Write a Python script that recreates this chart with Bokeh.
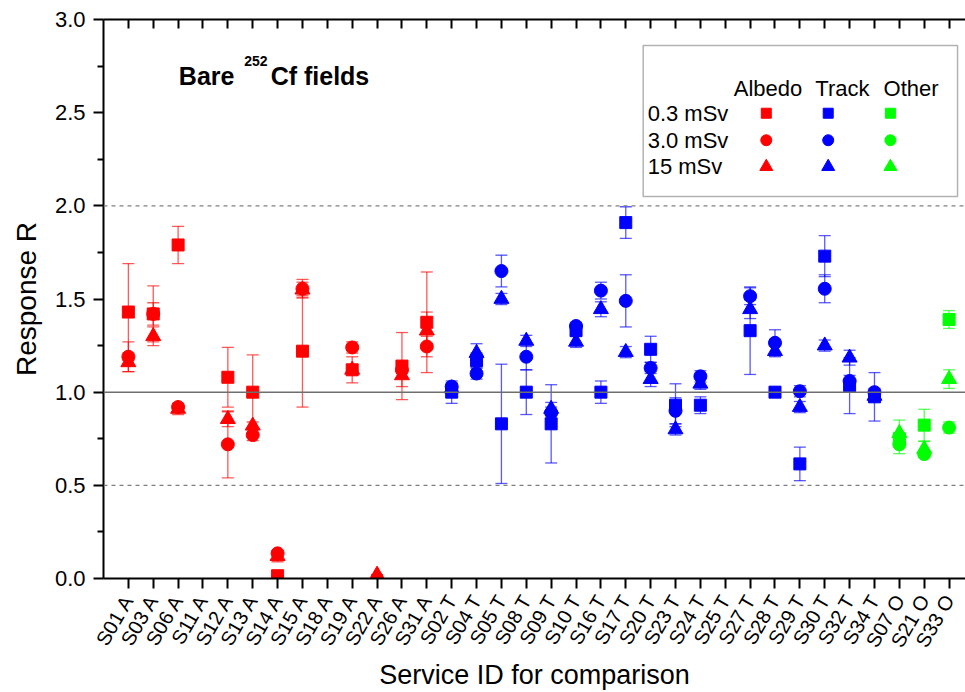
import math
from bokeh.plotting import figure
from bokeh.models import (ColumnDataSource, Whisker, TeeHead, Span, Label, LinearAxis,
                          FixedTicker, NumeralTickFormatter, BoxAnnotation, Range1d)
from bokeh.embed import file_html
from bokeh.resources import INLINE

# ---------------- data ----------------
categories = ["S01 A", "S03 A", "S06 A", "S11 A", "S12 A", "S13 A", "S14 A", "S15 A",
              "S18 A", "S19 A", "S22 A", "S26 A", "S31 A",
              "S02 T", "S04 T", "S05 T", "S08 T", "S09 T", "S10 T", "S16 T", "S17 T",
              "S20 T", "S23 T", "S24 T", "S25 T", "S27 T", "S28 T", "S29 T", "S30 T",
              "S32 T", "S34 T",
              "S07 O", "S21 O", "S33 O"]
groups = ["Albedo"] * 13 + ["Track"] * 18 + ["Other"] * 3

N = None
# 0.3 mSv (squares)
sq_val = [1.43, 1.42, 1.79, N, 1.08, 1.00, 0.015, 1.22, N, 1.12, N, 1.14, 1.375,
          1.00, 1.17, 0.83, 1.00, 0.83, 1.33, 1.00, 1.91, 1.23, 0.93, 0.93, N, 1.33,
          1.00, 0.615, 1.73, 1.035, 0.975,
          0.75, 0.823, 1.39]
sq_err = [0.26, 0.15, 0.10, N, 0.16, 0.20, 0.0, 0.30, N, 0.0, N, 0.18, 0.27,
          0.06, 0.04, 0.32, 0.12, 0.21, 0.03, 0.06, 0.085, 0.07, 0.115, 0.045, N, 0.235,
          0.0, 0.09, 0.11, 0.15, 0.13,
          0.03, 0.085, 0.048]
# 3.0 mSv (circles)
ci_val = [1.19, 1.42, 0.92, N, 0.72, 0.77, 0.135, 1.555, N, 1.24, N, 1.12, 1.245,
          1.03, 1.10, 1.65, 1.19, 0.89, 1.355, 1.545, 1.49, 1.13, 0.90, 1.085, N, 1.515,
          1.265, 1.005, 1.555, 1.06, 1.00,
          0.72, 0.668, 0.81]
ci_err = [0.08, 0.06, 0.02, N, 0.18, 0.03, 0.0, 0.05, N, 0.03, N, 0.02, 0.055,
          0.02, 0.03, 0.085, 0.07, 0.03, 0.02, 0.045, 0.14, 0.03, 0.07, 0.03, N, 0.045,
          0.07, 0.03, 0.075, 0.03, 0.02,
          0.05, 0.02, 0.03]
# 15 mSv (triangles)
tr_val = [1.16, 1.30, 0.91, N, 0.855, 0.82, 0.12, 1.55, N, 1.12, 0.02, 1.09, 1.33,
          1.02, 1.21, 1.50, 1.275, 0.91, 1.27, 1.445, 1.215, 1.07, 0.80, 1.045, N, 1.445,
          1.22, 0.92, 1.25, 1.185, 0.98,
          0.78, 0.695, 1.07]
tr_err = [0.05, 0.05, 0.03, N, 0.04, 0.02, 0.03, 0.04, N, 0.07, 0.0, 0.06, 0.10,
          0.02, 0.05, 0.03, 0.03, 0.035, 0.03, 0.04, 0.03, 0.04, 0.03, 0.03, N, 0.05,
          0.03, 0.03, 0.03, 0.04, 0.02,
          0.07, 0.04, 0.05]

group_names = ["Albedo", "Track", "Other"]
dose_labels = ["0.3 mSv", "3.0 mSv", "15 mSv"]
y_ticks = [0.0, 0.5, 1.0, 1.5, 2.0, 2.5, 3.0]

# ---------------- styles ----------------
colors = {"Albedo": "#FF0000", "Track": "#0000FF", "Other": "#00FF00"}
markers = [("square", 12), ("circle", 13), ("triangle", 15)]
FONT = "Liberation Sans"

p = figure(width=965, height=692, x_range=Range1d(0, 34.66), y_range=Range1d(0, 3),
           output_backend="svg", toolbar_location=None,
           min_border_left=103, min_border_right=0, min_border_top=19, min_border_bottom=114)
p.xgrid.visible = False
p.ygrid.visible = False
p.outline_line_color = None
p.background_fill_color = "white"

# reference lines
p.add_layout(Span(location=1.0, dimension="width", line_color="#6e6e6e", line_width=1.5))
for loc in (0.5, 2.0):
    p.add_layout(Span(location=loc, dimension="width", line_color="#808080",
                      line_width=1.2, line_dash="4 4"))

series = [(sq_val, sq_err), (ci_val, ci_err), (tr_val, tr_err)]
for (vals, errs), (mk, sz) in zip(series, markers):
    for g in group_names:
        xs, ys, ups, los = [], [], [], []
        for i, (v, e, gg) in enumerate(zip(vals, errs, groups)):
            if gg != g or v is None:
                continue
            xs.append(i + 1)
            ys.append(v)
            ups.append(v + (e or 0))
            los.append(v - (e or 0))
        if not xs:
            continue
        c = colors[g]
        src = ColumnDataSource(dict(x=xs, y=ys, upper=ups, lower=los))
        wk = Whisker(source=src, base="x", upper="upper", lower="lower",
                     line_color=c, line_alpha=0.65, line_width=1.3,
                     upper_head=TeeHead(size=12, line_color=c, line_alpha=0.65, line_width=1.3),
                     lower_head=TeeHead(size=12, line_color=c, line_alpha=0.65, line_width=1.3))
        p.add_layout(wk)
        p.scatter("x", "y", source=src, marker=mk, size=sz, fill_color=c, line_color=c)

# ---------------- axes ----------------
xa = p.xaxis[0]
xa.ticker = FixedTicker(ticks=list(range(1, len(categories) + 1)))
xa.major_label_overrides = {i + 1: c for i, c in enumerate(categories)}
xa.major_label_orientation = math.pi / 3
xa.major_label_text_font = FONT
xa.major_label_text_font_size = "20px"
xa.major_label_text_color = "black"
xa.major_label_standoff = 8
xa.major_tick_in = 0
xa.major_tick_out = 10
xa.major_tick_line_width = 2
xa.minor_tick_line_color = None
xa.axis_line_width = 2
xa.axis_label = "Service ID for comparison"
xa.axis_label_text_font = FONT
xa.axis_label_text_font_size = "27px"
xa.axis_label_text_font_style = "normal"
xa.axis_label_text_color = "black"
xa.axis_label_standoff = 0

ya = p.yaxis[0]
ya.ticker = FixedTicker(ticks=y_ticks, minor_ticks=[0.25, 0.75, 1.25, 1.75, 2.25, 2.75])
ya.formatter = NumeralTickFormatter(format="0.0")
ya.major_label_text_font = FONT
ya.major_label_text_font_size = "22px"
ya.major_label_text_color = "black"
ya.major_label_standoff = 8
ya.major_tick_in = 0
ya.major_tick_out = 10
ya.minor_tick_in = 0
ya.minor_tick_out = 6
ya.major_tick_line_width = 2
ya.minor_tick_line_width = 2
ya.axis_line_width = 2
ya.axis_label = "Response R"
ya.axis_label_text_font = FONT
ya.axis_label_text_font_size = "28px"
ya.axis_label_text_font_style = "normal"
ya.axis_label_text_color = "black"
ya.axis_label_standoff = 10

top = LinearAxis(ticker=FixedTicker(ticks=list(range(1, len(categories) + 1))),
                 major_tick_in=9, major_tick_out=0, major_tick_line_width=2,
                 minor_tick_line_color=None, axis_line_width=2,
                 major_label_text_font_size="1px", major_label_text_color=None,
                 major_label_standoff=0)
p.add_layout(top, "above")

# in-plot title
p.add_layout(Label(x=3.03, y=2.698, text="Bare", text_font=FONT, text_font_size="25px",
                   text_font_style="bold", text_baseline="alphabetic", text_color="black"))
p.add_layout(Label(x=5.66, y=2.778, text="252", text_font=FONT, text_font_size="14px",
                   text_font_style="bold", text_baseline="alphabetic", text_color="black"))
p.add_layout(Label(x=6.72, y=2.698, text="Cf fields", text_font=FONT, text_font_size="25px",
                   text_font_style="bold", text_baseline="alphabetic", text_color="black"))

# ---------------- legend (grid of markers) ----------------
box = BoxAnnotation(left=21.7, right=34.34, top=2.86, bottom=2.05, fill_alpha=0,
                    line_color="black", line_width=1.5, level="underlay")
p.add_layout(box)
leg_x = [26.65, 29.14, 31.64]
leg_y = [2.497, 2.352, 2.21]
head_x = [26.72, 29.71, 32.47]
for gx, hx, g in zip(leg_x, head_x, group_names):
    p.add_layout(Label(x=hx, y=2.63, text=g, text_align="center", text_baseline="middle",
                       text_font=FONT, text_font_size="22px", text_color="black"))
    for ly, (mk, sz) in zip(leg_y, markers):
        p.scatter([gx], [ly], marker=mk, size=sz - 2, fill_color=colors[g], line_color=colors[g])
for ly, dl in zip(leg_y, dose_labels):
    p.add_layout(Label(x=21.88, y=ly, text=dl, text_align="left", text_baseline="middle",
                       text_font=FONT, text_font_size="22px", text_color="black"))

open("out.html", "w").write(file_html(p, INLINE))
